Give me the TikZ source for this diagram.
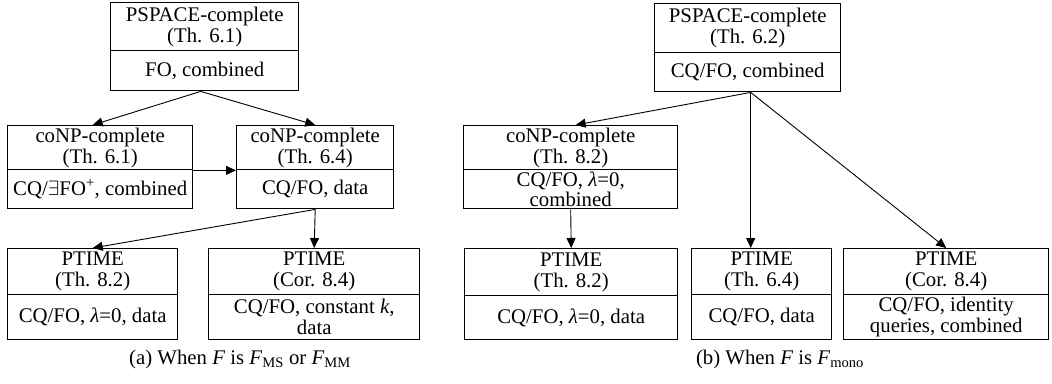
\documentclass[tikz,border=0pt]{standalone}
\usepackage{fontspec}
\setmainfont{Liberation Serif}
\usetikzlibrary{arrows.meta,calc}
\newcommand\twobox[8]{%
  \node[part, minimum width={#3-#2}, minimum height={#5-#4}] (#1t) at (#2,#4) {#7};
  \node[part, minimum width={#3-#2}, minimum height={#6-#5}] (#1b) at (#2,#5) {#8};
}
\begin{document}
\begin{tikzpicture}[x=1pt,y=-1pt,
  every node/.style={font=\fontsize{20.8}{20.8}\selectfont},
  part/.style={draw, line width=1.4pt, inner sep=0pt, align=center, anchor=north west},
  arr/.style={-{Triangle[length=10pt,width=9pt]}, line width=0.9pt},
  caption/.style={inner sep=0pt}
]
\useasboundingbox (0,0) rectangle (1052,383);
% left panel
\twobox{A}{110}{298}{2}{50}{90}{PSPACE-complete\\(Th. 6.1)}{FO, combined}
\twobox{B}{7}{192}{125}{169}{208}{coNP-complete\\(Th. 6.1)}{CQ/$\exists$FO\textsuperscript{+}, combined}
\twobox{C}{236}{393}{125}{169}{208}{coNP-complete\\(Th. 6.4)}{CQ/FO, data}
\twobox{D}{7}{177}{248}{294}{339}{PTIME\\(Th. 8.2)}{CQ/FO, \textit{λ}=0, data}
\twobox{E}{208}{419}{248}{294}{339}{PTIME\\(Cor. 8.4)}{CQ/FO, constant \textit{k},\\data}
% right panel
\twobox{F}{654}{840}{3}{52}{91}{PSPACE-complete\\(Th. 6.2)}{CQ/FO, combined}
\twobox{G}{463}{677}{125}{169}{208}{coNP-complete\\(Th. 8.2)}{CQ/FO, \textit{λ}=0,\\combined}
\twobox{H}{464}{677}{248}{295}{339}{PTIME\\(Th. 8.2)}{CQ/FO, \textit{λ}=0, data}
\twobox{I}{691}{831}{248}{294}{339}{PTIME\\(Th. 6.4)}{CQ/FO, data}
\twobox{J}{843}{1048}{248}{294}{339}{PTIME\\(Cor. 8.4)}{CQ/FO, identity\\queries, combined}
% connectors
\coordinate (as) at ([xshift=-4pt]Ab.south);
\draw[arr] (as) -- ([xshift=-7.5pt]Bt.north);
\draw[arr] (as) -- (Ct.north);
\draw[arr] (Bt.south east) -- (Ct.south west);
\draw[arr] (Cb.south) -- (Dt.north);
\draw[arr] (Cb.south) -- (Et.north);
\coordinate (fs) at ([xshift=3pt]Fb.south);
\draw[arr] (fs) -- ([xshift=5pt]Gt.north);
\draw[arr] (fs) -- (fs |- It.north);
\draw[arr] (fs) -- (Jt.north);
\draw[arr] (Gb.south) -- (Ht.north);
% captions
\node[caption] (capa) at (240,359) {(a) When \textit{F} is \textit{F}\textsubscript{MS} or \textit{F}\textsubscript{MM}};
\node[caption] (capb) at (780,359) {(b) When \textit{F} is \textit{F}\textsubscript{mono}};
\end{tikzpicture}
\end{document}
